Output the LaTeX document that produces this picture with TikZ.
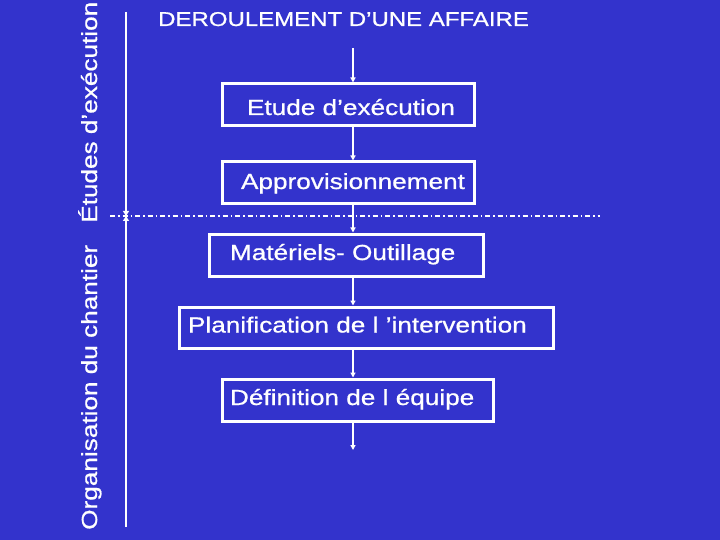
\documentclass[tikz,border=0pt]{standalone}
\usepackage{fontspec}
\setmainfont{Liberation Sans}[FakeStretch=1.2, FakeBold=0.8]
\usetikzlibrary{arrows.meta}

\definecolor{slideBlue}{RGB}{51,51,204}

\newcommand{\boxLineWidth}{3pt}
\newcommand{\arrowLineWidth}{1.6pt}
\newcommand{\railLineWidth}{2pt}
\newcommand{\flowX}{353}
\newcommand{\railX}{126}
\newcommand{\separatorY}{216}
\newcommand{\titleFont}{\fontsize{20}{24}\selectfont}
\newcommand{\boxFont}{\fontsize{21.8}{26}\selectfont}

\tikzset{
    stage/.style={draw=white, line width=\boxLineWidth, text=white, font=\boxFont,
        minimum height=42pt, inner sep=0pt, align=left, text height=15pt, text depth=5pt},
    flow/.style={white, line width=\arrowLineWidth, -{Triangle[width=5pt,length=5pt]}},
    rail/.style={white, line width=\railLineWidth, -{Triangle[width=6pt,length=5pt]}},
    label/.style={text=white, inner sep=0pt, anchor=base west}
}

\begin{document}
\begin{tikzpicture}[x=1pt, y=-1pt]
        % Slide
        \useasboundingbox (0,0) rectangle (720,540);
        \fill[slideBlue] (0,0) rectangle (720,540);

        % Title and side labels
        \node[label, font=\titleFont] (title) at (158,26) {DEROULEMENT D’UNE AFFAIRE};
        \node[label, font=\boxFont, rotate=90] (orga) at (97,530) {Organisation du chantier};
        \node[label, font=\boxFont, rotate=90] (etudes) at (97,223) {Études d’exécution};

        % Steps
        \node[stage, text width=252pt, text height=21pt, text depth=1pt] (etude) at (348,105) {\hspace*{25pt}Etude d’exécution};
        \node[stage, text width=252pt, text height=16pt, text depth=4pt] (appro) at (348,183) {\hspace*{19pt}Approvisionnement};
        \node[stage, text width=274pt] (materiel) at (346,255) {\hspace*{21pt}Matériels- Outillage};
        \node[stage, text width=374pt, minimum height=41pt] (planif) at (366,327.5) {\hspace*{9pt}Planification de l ’intervention};
        \node[stage, text width=271pt] (equipe) at (357.5,400) {\hspace*{8pt}Définition de l équipe};

        % Draw flow
        \coordinate (flowTop) at (\flowX,48);
        \coordinate (flowEnd) at (\flowX,450);
        \draw[flow] (flowTop) -- (etude.north -| flowTop);
        \draw[flow] (etude.south -| flowTop) -- (appro.north -| flowTop);
        \draw[flow] (appro.south -| flowTop) -- (materiel.north -| flowTop);
        \draw[flow] (materiel.south -| flowTop) -- (planif.north -| flowTop);
        \draw[flow] (planif.south -| flowTop) -- (equipe.north -| flowTop);
        \draw[flow] (equipe.south -| flowTop) -- (flowEnd);

        % Draw phase rail and separator
        \coordinate (railTop) at (\railX,12);
        \coordinate (railMid) at (\railX,\separatorY);
        \coordinate (railBottom) at (\railX,527);
        \coordinate (sepLeft) at (110,\separatorY);
        \coordinate (sepRight) at (600,\separatorY);
        \draw[white, line width=1.5pt, dash pattern=on 5pt off 3pt on 1.5pt off 3pt] (sepLeft) -- (sepRight);
        \draw[rail] (railTop) -- (railMid);
        \draw[rail] (railBottom) -- (railMid);
    \end{tikzpicture}
\end{document}
